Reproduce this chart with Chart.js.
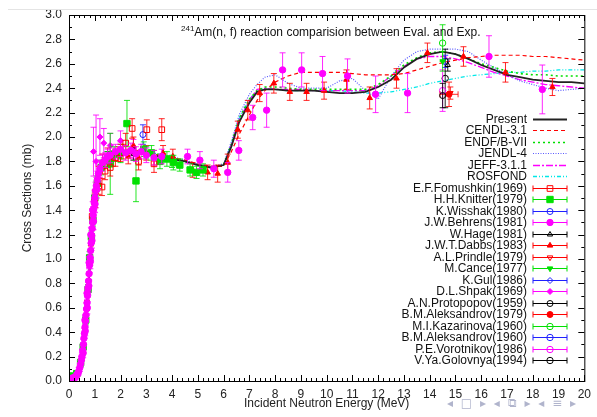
<!DOCTYPE html>
<html>
<head>
<meta charset="utf-8">
<script src="https://cdn.jsdelivr.net/npm/chart.js@4.4.0/dist/chart.umd.min.js"></script>
<style>
  html, body { margin: 0; padding: 0; background: #fff; }
  #wrap { position: relative; width: 597px; height: 417px; }
  #topline { position: absolute; left: 8px; right: 0; top: 9px; height: 1px; background: #e4e4e4; }
  #nav { position: absolute; left: 447px; top: 396px; font: 12px 'DejaVu Sans'; color: #b0b4cc; white-space: pre; letter-spacing: 2px; }
</style>
</head>
<body>
<div id="wrap">
  <div id="topline"></div>
  <canvas id="chart" width="597" height="417"></canvas>
  <div id="nav">◂ □ ▸ ◂ ⧉ ▸ ◂ ≡ ▸</div>
</div>
<script>
// Evaluated curves, sampled on a common energy grid (MeV)
const E_EVAL = [0, 0.2, 0.3, 0.4, 0.5, 0.6, 0.7, 0.8, 0.9, 1.0, 1.1, 1.2, 1.4, 1.7, 2, 2.5, 3, 3.5, 4, 4.5,
  5, 5.5, 6, 6.3, 6.6, 7, 7.3, 7.6, 8, 8.5, 9, 9.5, 10, 10.5, 11, 11.5, 12, 12.5, 13, 13.5,
  14, 14.5, 15, 15.5, 16, 16.5, 17, 17.5, 18, 18.5, 19, 19.5, 20];

const PRESENT = [0.02, 0.03, 0.05, 0.10, 0.20, 0.38, 0.62, 0.92, 1.22, 1.48, 1.64, 1.73, 1.80, 1.84, 1.86, 1.87, 1.86, 1.84, 1.82, 1.80,
  1.77, 1.75, 1.77, 1.92, 2.12, 2.28, 2.37, 2.39, 2.39, 2.38, 2.38, 2.38, 2.37, 2.36, 2.36, 2.37, 2.41, 2.47, 2.57, 2.64,
  2.68, 2.70, 2.68, 2.64, 2.59, 2.55, 2.51, 2.49, 2.47, 2.46, 2.45, 2.45, 2.44];
const CENDL = [0.02, 0.03, 0.05, 0.11, 0.21, 0.39, 0.63, 0.93, 1.23, 1.49, 1.65, 1.74, 1.81, 1.85, 1.87, 1.88, 1.87, 1.85, 1.83, 1.81,
  1.78, 1.76, 1.76, 1.88, 2.02, 2.18, 2.30, 2.38, 2.45, 2.50, 2.53, 2.53, 2.53, 2.53, 2.52, 2.51, 2.51, 2.51, 2.52, 2.55,
  2.58, 2.61, 2.63, 2.65, 2.66, 2.67, 2.67, 2.67, 2.66, 2.66, 2.65, 2.64, 2.63];
const ENDF = [0.02, 0.03, 0.05, 0.10, 0.20, 0.39, 0.63, 0.93, 1.23, 1.49, 1.65, 1.74, 1.81, 1.85, 1.87, 1.88, 1.87, 1.85, 1.83, 1.80,
  1.77, 1.75, 1.77, 1.94, 2.15, 2.31, 2.38, 2.41, 2.41, 2.40, 2.39, 2.39, 2.39, 2.39, 2.39, 2.39, 2.43, 2.50, 2.59, 2.65,
  2.69, 2.70, 2.68, 2.64, 2.60, 2.57, 2.54, 2.52, 2.51, 2.51, 2.50, 2.50, 2.50];
const JENDL = [0.02, 0.03, 0.05, 0.11, 0.21, 0.40, 0.64, 0.94, 1.24, 1.50, 1.66, 1.75, 1.82, 1.86, 1.88, 1.89, 1.88, 1.86, 1.84, 1.81,
  1.78, 1.76, 1.78, 1.96, 2.18, 2.35, 2.43, 2.49, 2.51, 2.44, 2.40, 2.40, 2.40, 2.46, 2.48, 2.38, 2.31, 2.50, 2.63, 2.70,
  2.72, 2.72, 2.72, 2.70, 2.63, 2.57, 2.51, 2.46, 2.43, 2.40, 2.38, 2.39, 2.40];
const JEFF = [0.02, 0.03, 0.05, 0.10, 0.20, 0.38, 0.62, 0.92, 1.22, 1.48, 1.64, 1.73, 1.80, 1.84, 1.86, 1.87, 1.86, 1.84, 1.82, 1.80,
  1.77, 1.75, 1.77, 1.94, 2.14, 2.30, 2.39, 2.40, 2.39, 2.39, 2.39, 2.38, 2.38, 2.38, 2.38, 2.38, 2.42, 2.50, 2.58, 2.64,
  2.66, 2.66, 2.64, 2.61, 2.57, 2.53, 2.50, 2.47, 2.45, 2.43, 2.42, 2.41, 2.40];
const ROSFOND = [0.02, 0.03, 0.05, 0.10, 0.20, 0.38, 0.62, 0.92, 1.22, 1.48, 1.64, 1.73, 1.80, 1.84, 1.86, 1.87, 1.86, 1.84, 1.82, 1.80,
  1.77, 1.75, 1.77, 1.94, 2.15, 2.31, 2.38, 2.40, 2.39, 2.38, 2.38, 2.38, 2.38, 2.38, 2.37, 2.36, 2.36, 2.37, 2.39, 2.41,
  2.44, 2.46, 2.48, 2.50, 2.51, 2.52, 2.53, 2.53, 2.54, 2.54, 2.55, 2.55, 2.55];

// Experimental data: [E (MeV), sigma (mb), d sigma, d E]
const FOMUSHKIN_1969 = [[0.9, 1.35, 0.06], [1.0, 1.48, 0.06], [1.15, 1.6, 0.07], [1.28, 1.59, 0.07], [1.4, 1.72, 0.07],
  [1.6, 1.75, 0.07], [1.8, 1.83, 0.07], [2.0, 1.87, 0.07], [2.2, 1.95, 0.08], [2.45, 2.07, 0.08], [2.7, 1.8, 0.07],
  [3.02, 2.06, 0.08], [3.3, 1.78, 0.07], [3.6, 2.06, 0.09]];
const KNITTER_1979 = [[0.02, 0.04, 0.02], [0.1, 0.04, 0.02], [0.3, 0.06, 0.02], [0.45, 0.15, 0.03], [0.55, 0.28, 0.03],
  [0.65, 0.5, 0.04], [0.74, 0.75, 0.04], [0.8, 1.01, 0.05], [0.87, 1.18, 0.05], [0.93, 1.32, 0.05], [1.0, 1.5, 0.05],
  [1.1, 1.62, 0.06], [1.25, 1.75, 0.06], [1.5, 1.82, 0.06], [1.6, 1.78, 0.25], [1.75, 1.86, 0.06], [2.0, 1.88, 0.06],
  [2.25, 2.11, 0.19], [2.6, 1.64, 0.17], [2.9, 1.9, 0.06], [3.2, 1.87, 0.06], [3.53, 1.8, 0.06], [3.8, 1.82, 0.06],
  [4.05, 1.79, 0.06], [4.3, 1.77, 0.05], [4.7, 1.73, 0.05], [4.95, 1.71, 0.05], [5.2, 1.73, 0.05]];
const WISSHAK_1980 = [[0.02, 0.0, 0.01], [0.06, 0.01, 0.01], [2.87, 2.02, 0.08]];
const BEHRENS_1981 = [[0.02, 0.01, 0.02], [0.05, 0.02, 0.02], [0.1, 0.02, 0.02], [0.15, 0.02, 0.02], [0.2, 0.03, 0.02],
  [0.25, 0.03, 0.02], [0.3, 0.05, 0.02], [0.34, 0.06, 0.02], [0.38, 0.08, 0.03], [0.42, 0.11, 0.03], [0.45, 0.14, 0.03],
  [0.48, 0.17, 0.03], [0.5, 0.2, 0.03], [0.53, 0.25, 0.04], [0.56, 0.3, 0.04], [0.58, 0.35, 0.04], [0.6, 0.39, 0.04],
  [0.62, 0.44, 0.04], [0.64, 0.49, 0.04], [0.66, 0.54, 0.05], [0.68, 0.59, 0.05], [0.7, 0.64, 0.05], [0.72, 0.7, 0.05],
  [0.74, 0.76, 0.05], [0.76, 0.82, 0.05], [0.78, 0.88, 0.05], [0.8, 0.95, 0.06], [0.82, 1.01, 0.06], [0.84, 1.07, 0.06],
  [0.86, 1.13, 0.06], [0.88, 1.19, 0.06], [0.9, 1.25, 0.06], [0.92, 1.3, 0.06], [0.94, 1.36, 0.07], [0.96, 1.41, 0.07],
  [0.98, 1.46, 0.07], [1.0, 1.5, 0.07], [1.03, 1.56, 0.07], [1.06, 1.6, 0.07], [1.1, 1.65, 0.07], [1.14, 1.7, 0.07],
  [1.2, 1.74, 0.07], [1.3, 1.79, 0.07], [1.4, 1.81, 0.06], [1.5, 1.84, 0.06], [1.6, 1.85, 0.06], [1.8, 1.88, 0.06],
  [2.0, 1.9, 0.06], [2.2, 1.87, 0.06], [2.4, 1.89, 0.06], [2.6, 1.86, 0.06], [2.8, 1.88, 0.06], [3.0, 1.85, 0.06],
  [3.3, 1.83, 0.06], [3.6, 1.84, 0.06], [4.6, 1.84, 0.06], [5.08, 1.81, 0.07], [5.62, 1.74, 0.07], [6.16, 1.71, 0.08],
  [6.59, 1.89, 0.08], [7.13, 2.16, 0.1], [7.67, 2.22, 0.14], [8.29, 2.55, 0.14], [9.03, 2.55, 0.14], [9.84, 2.52, 0.14],
  [10.81, 2.5, 0.14], [11.9, 2.35, 0.15], [13.14, 2.36, 0.16], [16.3, 2.66, 0.17], [18.37, 2.39, 0.2],
  [0.55, 0.23, 0.04], [0.63, 0.41, 0.04], [0.71, 0.6, 0.05], [0.77, 0.78, 0.05], [0.83, 0.98, 0.06], [0.89, 1.15, 0.06],
  [0.95, 1.31, 0.07], [1.01, 1.45, 0.07], [1.08, 1.57, 0.07], [0.62, 0.5, 0.04], [0.7, 0.72, 0.05], [0.78, 0.97, 0.05],
  [0.85, 1.2, 0.06], [0.92, 1.4, 0.07]];
const HAGE_1981 = [[1.5, 1.83, 0.05], [2.5, 1.86, 0.05], [14.7, 2.59, 0.05]];
const DABBS_1983 = [[0.7, 0.62, 0.04], [0.85, 1.12, 0.05], [1.0, 1.5, 0.06], [1.15, 1.7, 0.06], [1.3, 1.8, 0.06],
  [1.5, 1.85, 0.06], [1.7, 1.82, 0.06], [1.9, 1.86, 0.06], [2.1, 1.88, 0.06], [2.3, 1.84, 0.06], [2.5, 1.93, 0.07],
  [2.7, 1.83, 0.06], [3.0, 1.87, 0.06], [3.3, 1.83, 0.06], [3.65, 1.87, 0.06], [4.03, 1.84, 0.06], [4.8, 1.73, 0.06],
  [5.38, 1.71, 0.06], [5.77, 1.7, 0.07], [6.16, 1.79, 0.07], [6.55, 2.06, 0.07], [6.94, 2.22, 0.08], [7.4, 2.36, 0.07],
  [7.95, 2.44, 0.08], [8.57, 2.37, 0.07], [9.22, 2.37, 0.07], [9.9, 2.38, 0.07], [10.77, 2.47, 0.08], [11.67, 2.32, 0.09],
  [12.71, 2.48, 0.08], [13.91, 2.69, 0.08], [15.31, 2.66, 0.08], [16.94, 2.53, 0.08], [18.76, 2.41, 0.07]];
const PRINDLE_1979 = [[14.8, 2.36, 0.05]];
const CANCE_1977 = [[1.5, 1.8, 0.05], [2.0, 1.84, 0.05], [3.0, 1.87, 0.05], [4.0, 1.8, 0.05], [14.5, 2.62, 0.08]];
const GUL_1986 = [[0.03, 0.01, 0.01], [0.06, 0.02, 0.01]];
const SHPAK_1969 = [[0.95, 1.88, 0.2], [1.05, 1.8, 0.38], [1.2, 2.0, 0.15], [1.35, 1.95, 0.12], [1.6, 1.93, 0.1],
  [2.0, 1.97, 0.08], [2.5, 1.9, 0.08]];
const PROTOPOPOV_1959 = [[14.5, 2.34, 0.1]];
const ALEKSANDROV_1979 = [[14.75, 2.35, 0.1, 0.35]];
const KAZARINOVA_1960 = [[14.5, 2.77, 0.15]];
const ALEKSANDROV_1960 = [[14.6, 2.62, 0.05]];
const VOROTNIKOV_1986 = [[14.5, 2.38, 0.17]];
const GOLOVNYA_1994 = [[14.6, 2.48, 0.24]];

const RED = '#ff0000', GREEN = '#00e000', BLUE = '#2020ff', MAGENTA = '#ff00ff', BLACK = '#000000', CYAN = '#00e8e8';

const curves = [
  { label: 'Present', data: PRESENT, color: '#222222', width: 1.8, dash: [] },
  { label: 'CENDL-3.1', data: CENDL, color: RED, width: 1.2, dash: [4, 3] },
  { label: 'ENDF/B-VII', data: ENDF, color: GREEN, width: 1.6, dash: [2, 3] },
  { label: 'JENDL-4', data: JENDL, color: '#5a5aff', width: 1.2, dash: [1, 1.5] },
  { label: 'JEFF-3.1.1', data: JEFF, color: MAGENTA, width: 1.3, dash: [7, 2, 2, 2] },
  { label: 'ROSFOND', data: ROSFOND, color: CYAN, width: 1.3, dash: [4, 2, 1, 2, 1, 2] },
];

// z: drawing order (lower is drawn on top)
const experiments = [
  { label: 'E.F.Fomushkin(1969)', data: FOMUSHKIN_1969, color: RED, style: 'rect', fill: false, r: 4 },
  { label: 'H.H.Knitter(1979)', data: KNITTER_1979, color: GREEN, style: 'rect', fill: true, r: 4.5 },
  { label: 'K.Wisshak(1980)', data: WISSHAK_1980, color: BLUE, style: 'circle', fill: false, r: 3 },
  { label: 'J.W.Behrens(1981)', data: BEHRENS_1981, color: MAGENTA, style: 'circle', fill: true, r: 3.2, z: -1 },
  { label: 'W.Hage(1981)', data: HAGE_1981, color: BLACK, style: 'triangle', fill: false, r: 3 },
  { label: 'J.W.T.Dabbs(1983)', data: DABBS_1983, color: RED, style: 'triangle', fill: true, r: 3.2 },
  { label: 'A.L.Prindle(1979)', data: PRINDLE_1979, color: RED, style: 'triangle', fill: false, r: 3.2, rot: 180 },
  { label: 'M.Cance(1977)', data: CANCE_1977, color: GREEN, style: 'triangle', fill: true, r: 3.2, rot: 180 },
  { label: 'K.Gul(1986)', data: GUL_1986, color: BLUE, style: 'rectRot', fill: false, r: 3 },
  { label: 'D.L.Shpak(1969)', data: SHPAK_1969, color: MAGENTA, style: 'rectRot', fill: true, r: 3 },
  { label: 'A.N.Protopopov(1959)', data: PROTOPOPOV_1959, color: BLACK, style: 'circle', fill: false, r: 3 },
  { label: 'B.M.Aleksandrov(1979)', data: ALEKSANDROV_1979, color: RED, style: 'circle', fill: true, r: 3 },
  { label: 'M.I.Kazarinova(1960)', data: KAZARINOVA_1960, color: GREEN, style: 'circle', fill: false, r: 3.2 },
  { label: 'B.M.Aleksandrov(1960)', data: ALEKSANDROV_1960, color: BLUE, style: 'circle', fill: false, r: 3.2 },
  { label: 'P.E.Vorotnikov(1986)', data: VOROTNIKOV_1986, color: MAGENTA, style: 'circle', fill: false, r: 3.2 },
  { label: 'V.Ya.Golovnya(1994)', data: GOLOVNYA_1994, color: BLACK, style: 'circle', fill: false, r: 3.2 },
];

const FONT = "'Liberation Sans', Arial, sans-serif";

const datasets = [];
curves.forEach(c => {
  datasets.push({
    label: c.label,
    data: E_EVAL.map((e, i) => ({ x: e, y: c.data[i] })),
    showLine: true,
    borderColor: c.color,
    borderWidth: c.width,
    borderDash: c.dash,
    pointRadius: 0,
    tension: 0,
    order: 10,
  });
});
experiments.forEach(s => {
  datasets.push({
    label: s.label,
    data: s.data.map(p => ({ x: p[0], y: p[1] })),
    yErr: s.data.map(p => p[2]),
    xErr: s.data.map(p => p[3] || 0),
    showLine: false,
    borderColor: s.color,
    backgroundColor: s.fill ? s.color : 'rgba(255,255,255,0)',
    pointStyle: s.style,
    pointRadius: s.r,
    pointRotation: s.rot || 0,
    pointBorderWidth: 1,
    order: s.z || 0,
  });
});

// error bars under each experimental dataset
const errorBars = {
  id: 'errorBars',
  beforeDatasetDraw(chart, args) {
    const ds = chart.data.datasets[args.index];
    if (!ds.yErr) return;
    const { ctx, chartArea, scales: { x, y } } = chart;
    ctx.save();
    ctx.beginPath();
    ctx.rect(chartArea.left, chartArea.top, chartArea.right - chartArea.left, chartArea.bottom - chartArea.top);
    ctx.clip();
    ctx.strokeStyle = ds.borderColor;
    ctx.globalAlpha = 0.85;
    ctx.lineWidth = 1;
    const cap = 3;
    ds.data.forEach((p, i) => {
      const px = x.getPixelForValue(p.x);
      const py = y.getPixelForValue(p.y);
      const y1 = y.getPixelForValue(p.y - ds.yErr[i]);
      const y2 = y.getPixelForValue(p.y + ds.yErr[i]);
      ctx.beginPath();
      ctx.moveTo(px, y1); ctx.lineTo(px, y2);
      ctx.moveTo(px - cap, y1); ctx.lineTo(px + cap, y1);
      ctx.moveTo(px - cap, y2); ctx.lineTo(px + cap, y2);
      if (ds.xErr[i]) {
        const x1 = x.getPixelForValue(p.x - ds.xErr[i]);
        const x2 = x.getPixelForValue(p.x + ds.xErr[i]);
        ctx.moveTo(x1, py); ctx.lineTo(x2, py);
        ctx.moveTo(x1, py - cap); ctx.lineTo(x1, py + cap);
        ctx.moveTo(x2, py - cap); ctx.lineTo(x2, py + cap);
      }
      ctx.stroke();
    });
    ctx.restore();
  }
};

// gnuplot-like frame with inward ticks, title and key
const frame = {
  id: 'frame',
  afterDraw(chart) {
    const { ctx, chartArea: a, scales: { x, y } } = chart;
    ctx.save();
    ctx.strokeStyle = '#000';
    ctx.lineWidth = 1;
    ctx.strokeRect(a.left + 0.5, a.top + 0.5, a.right - a.left, a.bottom - a.top);
    ctx.beginPath();
    for (let i = 0; i <= 100; i++) {
      const px = Math.round(x.getPixelForValue(i * 0.2)) + 0.5;
      const len = i % 5 === 0 ? 6 : 3;
      ctx.moveTo(px, a.bottom); ctx.lineTo(px, a.bottom - len);
      ctx.moveTo(px, a.top); ctx.lineTo(px, a.top + len);
    }
    for (let i = 0; i <= 30; i++) {
      const py = Math.round(y.getPixelForValue(i * 0.1)) + 0.5;
      const len = i % 2 === 0 ? 6 : 3;
      ctx.moveTo(a.left, py); ctx.lineTo(a.left + len, py);
      ctx.moveTo(a.right, py); ctx.lineTo(a.right - len, py);
    }
    ctx.stroke();

    // title
    ctx.fillStyle = '#111';
    ctx.textBaseline = 'alphabetic';
    ctx.textAlign = 'left';
    ctx.font = '8px ' + FONT;
    ctx.fillText('241', 181, 31);
    const w = ctx.measureText('241').width;
    ctx.font = '12px ' + FONT;
    ctx.fillText('Am(n, f) reaction comparision between Eval. and Exp.', 181 + w, 36);

    // key
    const textX = 527, x0 = 533, x1 = 567, xm = 550;
    ctx.textAlign = 'right';
    ctx.textBaseline = 'middle';
    chart.data.datasets.forEach((ds, i) => {
      const ry = Math.round(119 + i * 11.48) + 0.5;
      ctx.fillStyle = '#111';
      ctx.font = '12px ' + FONT;
      ctx.fillText(ds.label, textX, ry);
      ctx.strokeStyle = ds.borderColor;
      ctx.lineWidth = ds.yErr ? 1 : ds.borderWidth;
      ctx.setLineDash(ds.yErr ? [] : ds.borderDash);
      ctx.beginPath();
      ctx.moveTo(x0, ry); ctx.lineTo(x1, ry);
      if (ds.yErr) {
        ctx.moveTo(x0, ry - 3); ctx.lineTo(x0, ry + 3);
        ctx.moveTo(x1, ry - 3); ctx.lineTo(x1, ry + 3);
      }
      ctx.stroke();
      ctx.setLineDash([]);
      if (ds.yErr) {
        ctx.fillStyle = ds.backgroundColor;
        Chart.helpers.drawPoint(ctx, {
          pointStyle: ds.pointStyle, radius: ds.pointRadius, rotation: ds.pointRotation, borderWidth: 1
        }, xm, ry);
      }
    });
    ctx.restore();
  }
};

new Chart(document.getElementById('chart'), {
  type: 'scatter',
  data: { datasets },
  plugins: [errorBars, frame],
  options: {
    responsive: false,
    animation: false,
    devicePixelRatio: 1,
    layout: { padding: { left: 0, right: 12, top: 15, bottom: 0 } },
    plugins: {
      legend: { display: false },
      tooltip: { enabled: false },
    },
    scales: {
      x: {
        type: 'linear',
        min: 0,
        max: 20,
        afterFit: s => { s.height = 36; },
        grid: { display: false, drawTicks: false },
        border: { display: false },
        ticks: {
          stepSize: 1,
          autoSkip: false,
          maxRotation: 0,
          padding: 6,
          color: '#222',
          font: { size: 12, family: FONT },
        },
        title: {
          display: true,
          text: 'Incident Neutron Energy (MeV)',
          color: '#222',
          font: { size: 12, family: FONT },
          padding: { top: 0, bottom: 6 },
        },
      },
      y: {
        min: 0,
        max: 3,
        afterFit: s => { s.width = 69; },
        grid: { display: false, drawTicks: false },
        border: { display: false },
        ticks: {
          stepSize: 0.2,
          padding: 7,
          color: '#222',
          font: { size: 12, family: FONT },
          callback: v => v.toFixed(1),
        },
        title: {
          display: true,
          text: 'Cross Sections (mb)',
          color: '#222',
          font: { size: 12, family: FONT },
          padding: { top: 20, bottom: 0 },
        },
      },
    },
  },
});
</script>
</body>
</html>
